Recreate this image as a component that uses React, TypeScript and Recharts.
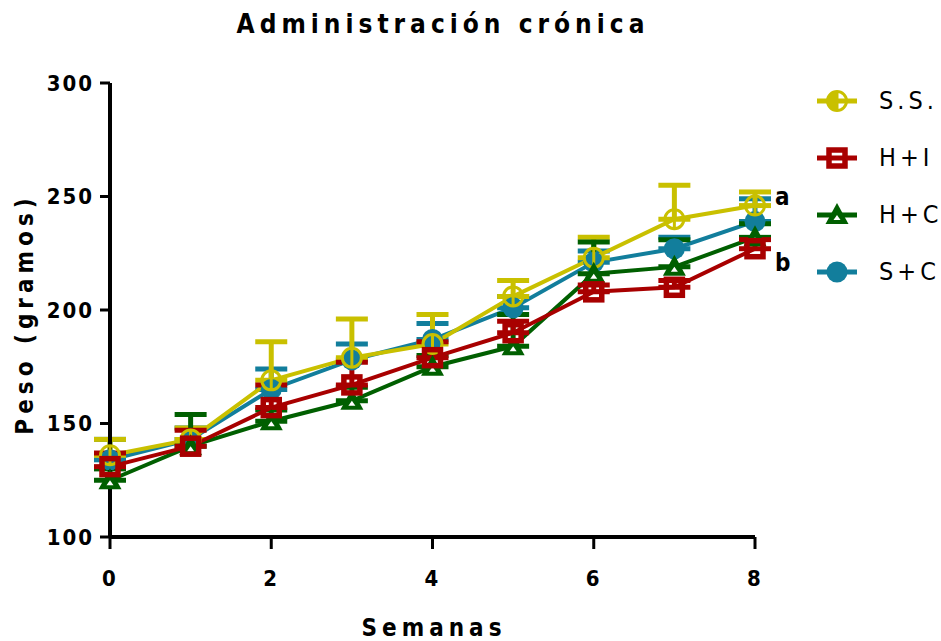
import { LineChart, Line, XAxis, YAxis, ErrorBar, Legend, ReferenceDot } from 'recharts';

// semanas de tratamiento
const semanas = [0, 1, 2, 3, 4, 5, 6, 7, 8];

// peso medio (g) y error superior por grupo
const ssPeso = [136, 143, 169, 179, 185, 206, 223, 240, 246];
const ssErr = [7, 5, 17, 17, 13, 7, 9, 15, 6];

const hiPeso = [131, 140, 157, 167, 179, 190, 208, 210, 227];
const hiErr = [6, 7, 10, 10, 7, 5, 3, 3, 4];

const hcPeso = [125, 140, 151, 160, 175, 184, 216, 219, 232];
const hcErr = [5, 14, 5, 6, 5, 14, 14, 12, 6];

const scPeso = [134, 143, 165, 178, 187, 201, 221, 227, 239];
const scErr = [9, 5, 9, 7, 7, 5, 5, 5, 10];

const yTicks = [100, 150, 200, 250, 300];
const xTicks = [0, 2, 4, 6, 8];

const AMARILLO = '#c9c000';
const ROJO = '#a80000';
const VERDE = '#005f00';
const AZUL = '#127e9c';

const FONT = "'Liberation Sans Narrow', 'DejaVu Sans Condensed', 'Liberation Sans', Arial, sans-serif";

const data = semanas.map((s, i) => ({
  semana: s,
  ss: ssPeso[i],
  ssE: [0, ssErr[i]],
  hi: hiPeso[i],
  hiE: [0, hiErr[i]],
  hc: hcPeso[i],
  hcE: [0, hcErr[i]],
  sc: scPeso[i],
  scE: [0, scErr[i]],
}));

const CircleLine = ({ cx, cy, legend }: any) => (
  <g>
    {legend && <path d={`M ${cx} ${cy - 9} A 9 9 0 0 0 ${cx} ${cy + 9} Z`} fill={AMARILLO} />}
    <circle cx={cx} cy={cy} r={9.5} fill="none" stroke={AMARILLO} strokeWidth={3} />
    <line x1={cx} y1={cy - 9} x2={cx} y2={cy + 9} stroke={AMARILLO} strokeWidth={3} />
  </g>
);

const Square = ({ cx, cy }: any) => (
  <rect x={cx - 8} y={cy - 8} width={16} height={16} fill="none" stroke={ROJO} strokeWidth={5.5} />
);

const Triangle = ({ cx, cy }: any) => (
  <g>
    <path d={`M ${cx} ${cy - 12} L ${cx + 11.5} ${cy + 9} L ${cx - 11.5} ${cy + 9} Z`} fill={VERDE} />
    <path d={`M ${cx} ${cy} L ${cx + 3.5} ${cy + 5} L ${cx - 3.5} ${cy + 5} Z`} fill="#fff" />
  </g>
);

const Dot = ({ cx, cy }: any) => <circle cx={cx} cy={cy} r={10.5} fill={AZUL} />;

const series = [
  { key: 'ss', name: 'S.S.', color: AMARILLO, Marker: CircleLine },
  { key: 'hi', name: 'H+I', color: ROJO, Marker: Square },
  { key: 'hc', name: 'H+C', color: VERDE, Marker: Triangle },
  { key: 'sc', name: 'S+C', color: AZUL, Marker: Dot },
];

const LegendBox = () => (
  <div>
    {series.map((s) => (
      <div key={s.key} style={{ display: 'flex', alignItems: 'center', height: 57 }}>
        <svg width={64} height={30}>
          <line x1={2} y1={15} x2={42} y2={15} stroke={s.color} strokeWidth={5} />
          <s.Marker cx={22} cy={15} legend />
        </svg>
        <span style={{ fontFamily: FONT, fontSize: 25, letterSpacing: 4, color: '#000' }}>{s.name}</span>
      </div>
    ))}
  </div>
);

const tickStyle = { fontFamily: FONT, fontSize: 22, fontWeight: 700, letterSpacing: 2, fill: '#000' };
const labelStyle = { fontFamily: FONT, fontSize: 24, fontWeight: 700, letterSpacing: 5, fill: '#000' };

export default function App() {
  return (
    <div style={{ position: 'absolute', left: 0, top: 0, width: 941, height: 641, background: '#fff' }}>
      <div
        style={{
          position: 'absolute',
          top: 9,
          left: 0,
          width: 886,
          textAlign: 'center',
          fontFamily: FONT,
          fontSize: 26,
          fontWeight: 700,
          letterSpacing: 5,
        }}
      >
        Administración crónica
      </div>
      <LineChart width={941} height={641} data={data} margin={{ top: 83, right: 186, left: 60, bottom: 64 }}>
        <XAxis
          dataKey="semana"
          type="number"
          domain={[0, 8]}
          ticks={xTicks}
          height={40}
          stroke="#000"
          axisLine={{ strokeWidth: 4 }}
          tickLine={{ strokeWidth: 3 }}
          tickSize={12}
          tick={tickStyle}
          tickMargin={21}
          label={{
            content: () => (
              <text x={434} y={636} textAnchor="middle" style={labelStyle}>
                Semanas
              </text>
            ),
          }}
        />
        <YAxis
          type="number"
          domain={[100, 300]}
          ticks={yTicks}
          width={50}
          stroke="#000"
          axisLine={{ strokeWidth: 4 }}
          tickLine={{ strokeWidth: 3 }}
          tickSize={10}
          tick={tickStyle}
          tickMargin={6}
          label={{
            content: () => (
              <text x={0} y={0} transform="translate(33 314) rotate(-90)" textAnchor="middle" style={labelStyle}>
                Peso (gramos)
              </text>
            ),
          }}
        />
        <Legend
          layout="horizontal"
          verticalAlign="middle"
          align="center"
          content={() => <LegendBox />}
          wrapperStyle={{ left: 815, top: 72, width: 130 }}
        />
        <Line dataKey="sc" name="S+C" stroke={AZUL} strokeWidth={4} isAnimationActive={false} dot={(p: any) => <Dot key={p.index} {...p} />}>
          <ErrorBar dataKey="scE" direction="y" width={16} stroke={AZUL} strokeWidth={5} />
        </Line>
        <Line dataKey="ss" name="S.S." stroke={AMARILLO} strokeWidth={4} isAnimationActive={false} dot={(p: any) => <CircleLine key={p.index} {...p} />}>
          <ErrorBar dataKey="ssE" direction="y" width={16} stroke={AMARILLO} strokeWidth={5} />
        </Line>
        <Line dataKey="hc" name="H+C" stroke={VERDE} strokeWidth={4} isAnimationActive={false} dot={(p: any) => <Triangle key={p.index} {...p} />}>
          <ErrorBar dataKey="hcE" direction="y" width={16} stroke={VERDE} strokeWidth={5} />
        </Line>
        <Line dataKey="hi" name="H+I" stroke={ROJO} strokeWidth={4} isAnimationActive={false} dot={(p: any) => <Square key={p.index} {...p} />}>
          <ErrorBar dataKey="hiE" direction="y" width={16} stroke={ROJO} strokeWidth={5} />
        </Line>
        <ReferenceDot x={8} y={250} r={0} label={{ value: 'a', position: 'right', offset: 20, style: { ...labelStyle, letterSpacing: 0 } }} />
        <ReferenceDot x={8} y={221} r={0} label={{ value: 'b', position: 'right', offset: 20, style: { ...labelStyle, letterSpacing: 0 } }} />
      </LineChart>
    </div>
  );
}
